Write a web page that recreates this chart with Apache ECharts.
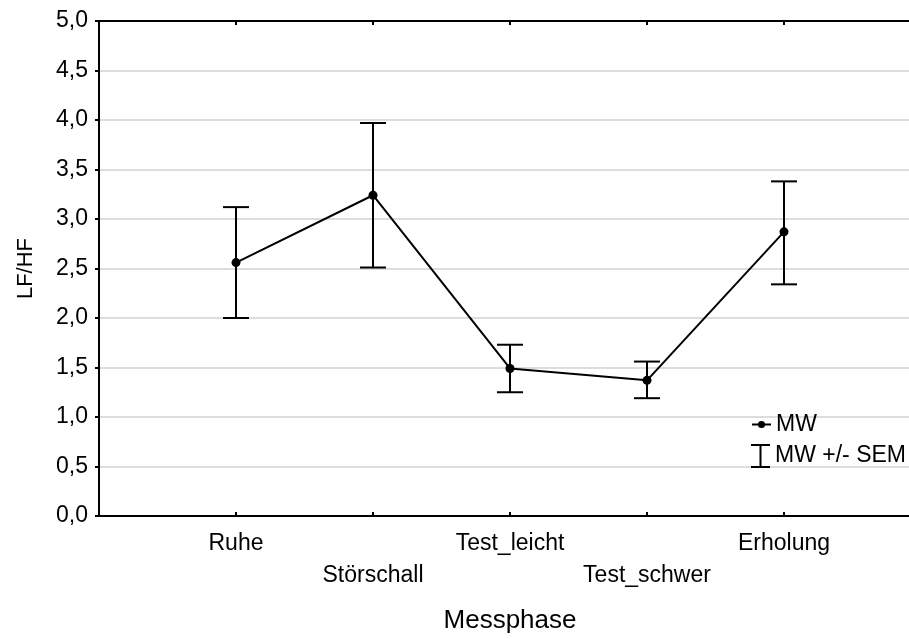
<!DOCTYPE html>
<html>
<head>
<meta charset="utf-8">
<script src="https://cdn.jsdelivr.net/npm/echarts@6/dist/echarts.min.js"></script>
<style>
  html, body { margin: 0; padding: 0; background: #fff; overflow: hidden; }
  /* the frame runs slightly past the right edge of the window */
  #chart { width: 930px; height: 639px; }
</style>
</head>
<body>
<div id="chart"></div>
<script>
// Measurement phases, padded with empty slots at both ends of the frame
const phases = ['', 'Ruhe', 'Störschall', 'Test_leicht', 'Test_schwer', 'Erholung', ''];
// Mean LF/HF ratio per phase
const meanValues = [2.56, 3.24, 1.49, 1.37, 2.87];
// Mean - SEM and mean + SEM
const lowerValues = [2.00, 2.51, 1.25, 1.19, 2.34];
const upperValues = [3.12, 3.97, 1.73, 1.56, 3.38];
// Value axis ticks
const yTicks = [0, 0.5, 1, 1.5, 2, 2.5, 3, 3.5, 4, 4.5, 5];

const FONT = '"Liberation Sans", Arial, sans-serif';
const fmt = v => v.toFixed(1).replace('.', ',');

// phase i sits at category index i + 1
const meanData = meanValues.map((m, i) => [i + 1, m]);
const errorData = meanValues.map((m, i) => [i + 1, lowerValues[i], upperValues[i]]);

const chart = echarts.init(document.getElementById('chart'), null, { renderer: 'canvas' });

const barIcon = 'path://M0,0 H19 V2 H10.5 V22 H19 V24 H0 V22 H8.5 V2 H0 Z';
const tickShown = (idx, val) => val !== '';

chart.setOption({
  backgroundColor: '#ffffff',
  animation: false,
  textStyle: { fontFamily: FONT },
  grid: { left: 99, right: 9, top: 21, bottom: 122, containLabel: false },
  legend: [
    {
      data: ['MW'],
      orient: 'vertical',
      left: 746, top: 408,
      itemWidth: 19, itemHeight: 9,
      textStyle: { fontSize: 23, color: '#000', fontFamily: FONT },
      selectedMode: false
    },
    {
      data: [{ name: 'MW +/- SEM', icon: barIcon }],
      orient: 'vertical',
      left: 746, top: 439,
      itemWidth: 19, itemHeight: 24,
      textStyle: { fontSize: 23, color: '#000', fontFamily: FONT },
      selectedMode: false
    }
  ],
  xAxis: [
    {
      type: 'category',
      data: phases,
      boundaryGap: false,
      position: 'bottom',
      name: 'Messphase',
      nameLocation: 'middle',
      nameGap: 92,
      nameTextStyle: { fontSize: 26, color: '#000', fontFamily: FONT },
      axisLine: { lineStyle: { color: '#000', width: 2 } },
      axisTick: {
        inside: true, length: 4,
        lineStyle: { color: '#000', width: 2 },
        interval: tickShown
      },
      axisLabel: {
        interval: 0,
        margin: 12,
        fontSize: 23,
        color: '#000',
        lineHeight: 32,
        fontFamily: FONT,
        formatter: (val, idx) => (idx % 2 === 0 && val ? '\n' + val : val)
      },
      splitLine: { show: false }
    },
    {
      type: 'category',
      data: phases,
      boundaryGap: false,
      position: 'top',
      axisLine: { lineStyle: { color: '#000', width: 2 } },
      axisTick: {
        inside: true, length: 4,
        lineStyle: { color: '#000', width: 2 },
        interval: tickShown
      },
      axisLabel: { show: false },
      splitLine: { show: false }
    }
  ],
  yAxis: {
    type: 'value',
    min: yTicks[0],
    max: yTicks[yTicks.length - 1],
    interval: 0.5,
    name: 'LF/HF',
    nameLocation: 'middle',
    nameGap: 62,
    nameTextStyle: { fontSize: 22, color: '#000', fontFamily: FONT },
    axisLine: { show: true, lineStyle: { color: '#000', width: 2 } },
    axisTick: { show: true, length: 4, lineStyle: { color: '#000', width: 2 } },
    axisLabel: { fontSize: 23, color: '#000', margin: 11, fontFamily: FONT, formatter: fmt },
    splitLine: { show: true, lineStyle: { color: '#dddddd', width: 2 } }
  },
  series: [
    {
      name: 'MW +/- SEM',
      type: 'custom',
      xAxisIndex: 0,
      itemStyle: { color: '#000' },
      data: errorData,
      z: 2,
      renderItem: (params, api) => {
        const x = api.value(0);
        const lo = api.coord([x, api.value(1)]);
        const hi = api.coord([x, api.value(2)]);
        const half = 13;
        const style = { stroke: '#000', lineWidth: 2, fill: null };
        return {
          type: 'group',
          children: [
            { type: 'line', shape: { x1: lo[0], y1: lo[1], x2: hi[0], y2: hi[1] }, style },
            { type: 'line', shape: { x1: hi[0] - half, y1: hi[1], x2: hi[0] + half, y2: hi[1] }, style },
            { type: 'line', shape: { x1: lo[0] - half, y1: lo[1], x2: lo[0] + half, y2: lo[1] }, style }
          ]
        };
      }
    },
    {
      name: 'MW',
      type: 'line',
      xAxisIndex: 0,
      data: meanData,
      symbol: 'circle',
      symbolSize: 9,
      itemStyle: { color: '#000' },
      lineStyle: { color: '#000', width: 2 },
      z: 3
    }
  ]
});
</script>
</body>
</html>
